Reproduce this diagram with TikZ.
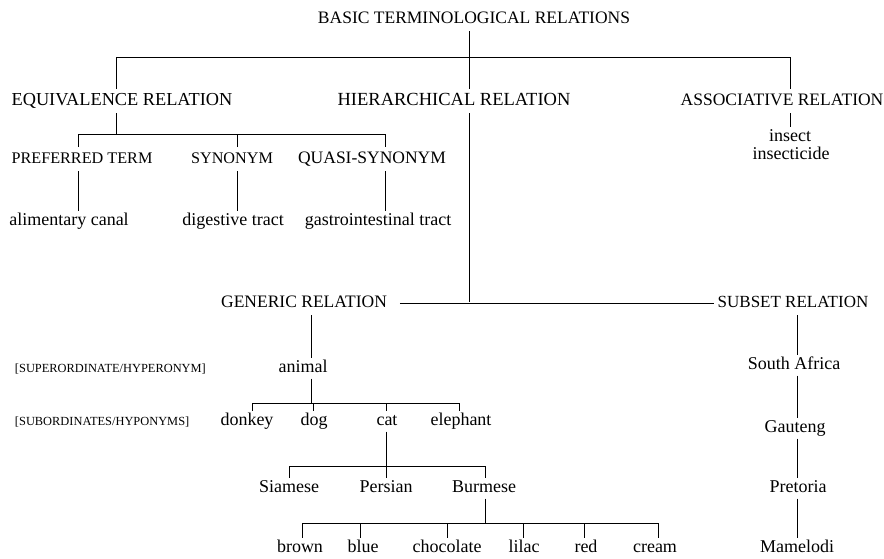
\documentclass[tikz,border=0pt]{standalone}
\usepackage{fontspec}
\setmainfont{Liberation Serif}
\begin{document}
\begin{tikzpicture}[x=1pt,y=-1pt,line width=1pt,
  tbase/.style={inner sep=0pt,text height=12pt,text depth=4pt},
  caplab/.style={tbase,outer sep=4pt,font=\fontsize{17.5}{19}\selectfont},
  wordlab/.style={tbase,outer sep=2.5pt,font=\fontsize{18}{20}\selectfont},
  smalllab/.style={tbase,outer sep=2pt,anchor=west,font=\fontsize{12.4}{14}\selectfont}]
\useasboundingbox (0,0) rectangle (884,558);
% nodes
\node[caplab] (title) at (474,19) {BASIC TERMINOLOGICAL RELATIONS};
\node[caplab,font=\fontsize{18.3}{20}\selectfont] (eq) at (122,101) {EQUIVALENCE RELATION};
\node[caplab,font=\fontsize{18.5}{20}\selectfont] (hier) at (454,101) {HIERARCHICAL RELATION};
\node[caplab] (as) at (782,101) {ASSOCIATIVE RELATION};
\node[caplab,font=\fontsize{16.2}{18}\selectfont] (pt) at (82,159) {PREFERRED TERM};
\node[caplab,font=\fontsize{16.2}{18}\selectfont] (syn) at (232,159) {SYNONYM};
\node[caplab] (qs) at (372,159) {QUASI-SYNONYM};
\node[wordlab] (ac) at (69,221) {alimentary canal};
\node[wordlab] (dt) at (233,221) {digestive tract};
\node[wordlab] (gt) at (378,221) {gastrointestinal tract};
\node[wordlab] (ins1) at (790,137) {insect};
\node[wordlab] (ins2) at (791,155) {insecticide};
\node[caplab] (gen) at (304,303) {GENERIC RELATION};
\node[caplab,font=\fontsize{17}{19}\selectfont] (sub) at (793,303) {SUBSET RELATION};
\node[smalllab] (sup) at (13,368) {[SUPERORDINATE/HYPERONYM]};
\node[wordlab] (animal) at (303,368) {animal};
\node[smalllab] (subo) at (13,421) {[SUBORDINATES/HYPONYMS]};
\node[wordlab] (donkey) at (247,421) {donkey};
\node[wordlab] (dog) at (314,421) {dog};
\node[wordlab] (cat) at (387,421) {cat};
\node[wordlab] (eleph) at (461,421) {elephant};
\node[wordlab] (siam) at (289,488) {Siamese};
\node[wordlab] (pers) at (386,488) {Persian};
\node[wordlab] (burm) at (484,488) {Burmese};
\node[wordlab] (brown) at (300,548) {brown};
\node[wordlab] (blue) at (363,548) {blue};
\node[wordlab] (choc) at (447,548) {chocolate};
\node[wordlab] (lilac) at (524,548) {lilac};
\node[wordlab] (red) at (586,548) {red};
\node[wordlab] (cream) at (655,548) {cream};
\node[wordlab] (sa) at (794,365) {South Africa};
\node[wordlab] (gau) at (795,428) {Gauteng};
\node[wordlab] (pre) at (798,488) {Pretoria};
\node[wordlab] (mam) at (797,548) {Mamelodi};
% junction coordinates
\coordinate (topx) at (469,57);
\coordinate (eqx) at (116,134);
\coordinate (asx) at (790,57);
\coordinate (ptx) at (78,134);
\coordinate (synx) at (237,134);
\coordinate (qsx) at (385,134);
\coordinate (hj) at (469,302);
\coordinate (anx) at (311,403);
\coordinate (dkx) at (252,403);
\coordinate (dgx) at (313,403);
\coordinate (ctx) at (386,403);
\coordinate (elx) at (459,403);
\coordinate (cbar) at (386,466);
\coordinate (six) at (289,466);
\coordinate (bux) at (485,466);
\coordinate (bbar) at (485,523);
\coordinate (brx) at (302,523);
\coordinate (blx) at (360,523);
\coordinate (chx) at (447,523);
\coordinate (lix) at (523,523);
\coordinate (rex) at (584,523);
\coordinate (crx) at (658,523);
\coordinate (sx) at (797,0);
% top level
\draw (title.south -| topx) -- (hier.north -| topx);
\draw (eq.north -| eqx) -- (eqx |- topx) -- (asx) -- (as.north -| asx);
% equivalence
\draw (eq.south -| eqx) -- (eqx);
\draw (pt.north -| ptx) -- (ptx) -- (qsx) -- (qs.north -| qsx);
\draw (syn.north -| synx) -- (synx);
\draw (pt.south -| ptx) -- (ac.north -| ptx);
\draw (syn.south -| synx) -- (dt.north -| synx);
\draw (qs.south -| qsx) -- (gt.north -| qsx);
% associative
\draw (as.south -| asx) -- (ins1.north -| asx);
% hierarchical
\draw (hier.south -| hj) -- (hj);
\draw[shorten <=9pt] (gen.east) -- (sub.west);
% generic
\draw (gen.south -| anx) -- (animal.north -| anx);
\draw (animal.south -| anx) -- (anx);
\draw (donkey.north -| dkx) -- (dkx) -- (elx) -- (eleph.north -| elx);
\draw (dog.north -| dgx) -- (dgx);
\draw (cat.north -| ctx) -- (ctx);
\draw (cat.south -| cbar) -- (cbar);
\draw (siam.north -| six) -- (six) -- (bux) -- (burm.north -| bux);
\draw (pers.north -| cbar) -- (cbar);
\draw (burm.south -| bbar) -- (bbar);
\draw (brown.north -| brx) -- (brx) -- (crx) -- (cream.north -| crx);
\draw (blue.north -| blx) -- (blx);
\draw (choc.north -| chx) -- (chx);
\draw (lilac.north -| lix) -- (lix);
\draw (red.north -| rex) -- (rex);
% subset
\draw (sub.south -| sx) -- (sa.north -| sx);
\draw (sa.south -| sx) -- (gau.north -| sx);
\draw (gau.south -| sx) -- (pre.north -| sx);
\draw (pre.south -| sx) -- (mam.north -| sx);
\end{tikzpicture}
\end{document}
